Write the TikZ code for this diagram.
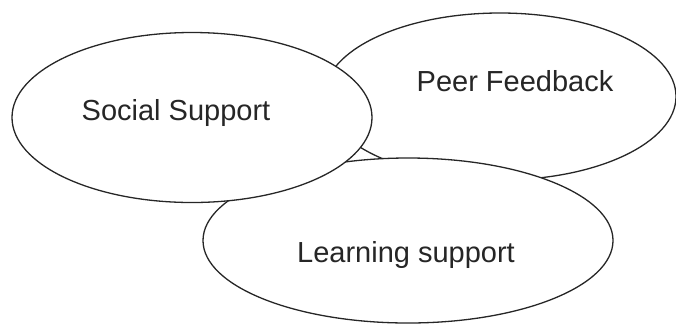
\documentclass[tikz,border=0pt]{standalone}
\usepackage{fontspec}
\setmainfont{Liberation Sans}
\usetikzlibrary{shapes.geometric}
\begin{document}
\begin{tikzpicture}[x=1pt,y=-1pt,
  oval/.style={ellipse,draw=black!85,fill=white,line width=1.3pt,inner sep=0pt},
  lbl/.style={anchor=base,inner sep=0pt,font=\fontsize{29}{34}\selectfont,text=black!85}]
\useasboundingbox (0,0) rectangle (676,325);
\node[oval,minimum width=352pt,minimum height=167pt] (peer) at (500,96.5) {};
\node[oval,minimum width=410pt,minimum height=165pt] (learn) at (408,240.5) {};
\node[oval,minimum width=360pt,minimum height=170pt] (social) at (192,117.5) {};
\node[lbl] (tsocial) at (176,120) {Social Support};
\node[lbl] (tpeer) at (515,91.7) {Peer Feedback};
\node[lbl] (tlearn) at (406,262) {Learning support};
\end{tikzpicture}
\end{document}
